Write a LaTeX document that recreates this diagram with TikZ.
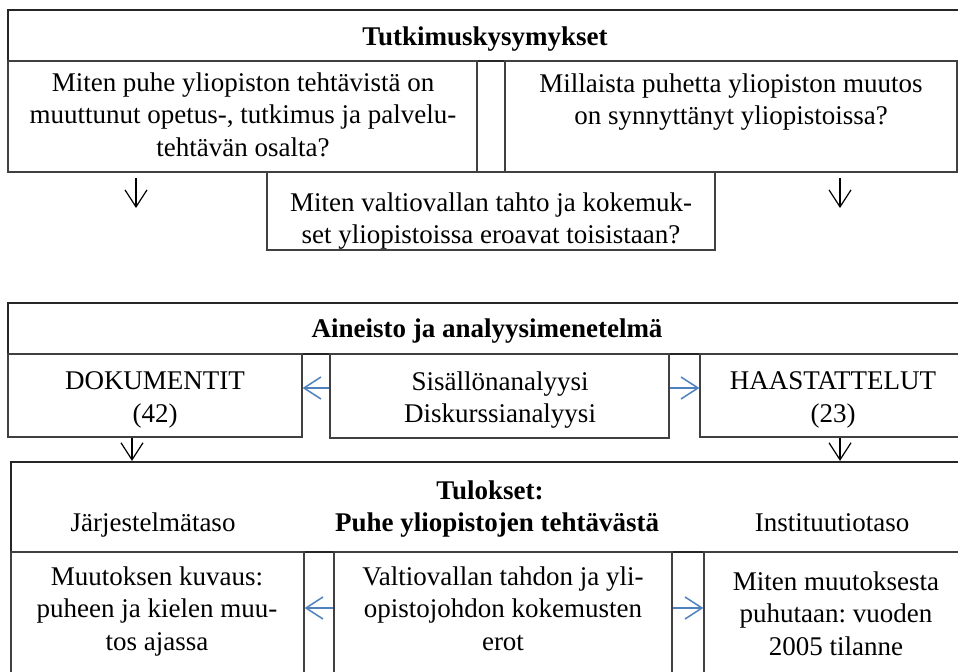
\documentclass[tikz,border=0pt]{standalone}
\usepackage{fontspec}
\setmainfont{Liberation Serif}
\frenchspacing
\usetikzlibrary{positioning,fit,arrows.meta}
\definecolor{WordBlau}{RGB}{79,129,189}
\definecolor{RahmenGrau}{RGB}{64,64,64}

\tikzset{
  box/.style={draw=RahmenGrau, line width=0.6pt, inner sep=0pt},
  headbox/.style={draw=black!85, line width=1.1pt, inner sep=0pt},
  txt/.style={align=center, inner sep=0pt, font=\fontsize{13.5}{16.4}\selectfont},
  txtb/.style={txt, font=\fontsize{13.5}{16.4}\selectfont\bfseries},
  arr/.style={-{Straight Barb[length=8.5pt,width=11pt]}, line width=0.6pt},
  bluearr/.style={arr, draw=WordBlau, line width=0.75pt},
}

\begin{document}
\begin{tikzpicture}[x=0.5pt, y=-0.5pt]
\useasboundingbox (0,0) rectangle (958,672);
\clip (0,0) rectangle (958,672);

% Tutkimuskysymykset
\node[headbox, fit={(8,10) (964,61)}] (frage) {};
\node[txtb, anchor=base] (fraget) at (485,46) {Tutkimuskysymykset};
\node[box, fit={(8,61) (477,172)}] (q1) {};
\node[box, fit={(505,61) (957,172)}] (q2) {};
\node[box, fit={(267,172) (715,250)}] (q3) {};
\node[txt, anchor=north] (q1t) at (243,72) {Miten puhe yliopiston tehtävistä on\\muuttunut opetus-, tutkimus ja palvelu-\\tehtävän osalta?};
\node[txt, anchor=north] (q2t) at (731,73) {Millaista puhetta yliopiston muutos\\on synnyttänyt yliopistoissa?};
\node[txt, anchor=north] (q3t) at (491,192) {Miten valtiovallan tahto ja kokemuk-\\set yliopistoissa eroavat toisistaan?};
\coordinate (qa1) at (136,178);
\coordinate (qa2) at (840,178);
\draw[arr] (qa1) -- ++(0,30);
\draw[arr] (qa2) -- ++(0,30);

% Aineisto ja analyysimenetelma
\node[headbox, fit={(8,303) (966,354)}] (aineisto) {};
\node[txtb, anchor=base] (aineistot) at (487,338) {Aineisto ja analyysimenetelmä};
\node[box, fit={(8,354) (302,437)}] (dok) {};
\node[box, fit={(330,354) (669,438)}] (sis) {};
\node[box, fit={(700,354) (970,437)}] (haa) {};
\node[txt, anchor=north] (dokt) at (155,371) {DOKUMENTIT\\(42)};
\node[txt, anchor=north] (sist) at (500,371) {Sisällönanalyysi\\Diskurssianalyysi};
\node[txt, anchor=north] (haat) at (833,371) {HAASTATTELUT\\(23)};
\coordinate (ya) at (0,388);
\draw[bluearr] (sis.west |- ya) -- (dok.east |- ya);
\draw[bluearr] (sis.east |- ya) -- (haa.west |- ya);

% Tulokset
\node[headbox, fit={(11,462) (970,552)}] (tul) {};
\coordinate (xd) at (132,0);
\coordinate (xh) at (840,0);
\draw[arr] (xd |- dok.south) -- (xd |- tul.north);
\draw[arr] (xh |- haa.south) -- (xh |- tul.north);
\node[txtb, anchor=base] (tult) at (490,500) {Tulokset:};
\node[txtb, anchor=base] (puhe) at (497,532) {Puhe yliopistojen tehtävästä};
\node[txt, anchor=base] (jarj) at (153,532) {Järjestelmätaso};
\node[txt, anchor=base] (inst) at (832,532) {Instituutiotaso};
\node[box, fit={(11,552) (304,700)}] (b1) {};
\node[box, fit={(334,552) (672,700)}] (b2) {};
\node[box, fit={(704,552) (970,700)}] (b3) {};
\node[txt, anchor=north] (b1t) at (157,566) {Muutoksen kuvaus:\\puheen ja kielen muu-\\tos ajassa};
\node[txt, anchor=north] (b2t) at (503,566) {Valtiovallan tahdon ja yli-\\opistojohdon kokemusten\\erot};
\node[txt, anchor=north] (b3t) at (836,571) {Miten muutoksesta\\puhutaan: vuoden\\2005 tilanne};
\coordinate (yb) at (0,608);
\draw[bluearr] (b2.west |- yb) -- (b1.east |- yb);
\draw[bluearr] (b2.east |- yb) -- (b3.west |- yb);
\end{tikzpicture}
\end{document}
